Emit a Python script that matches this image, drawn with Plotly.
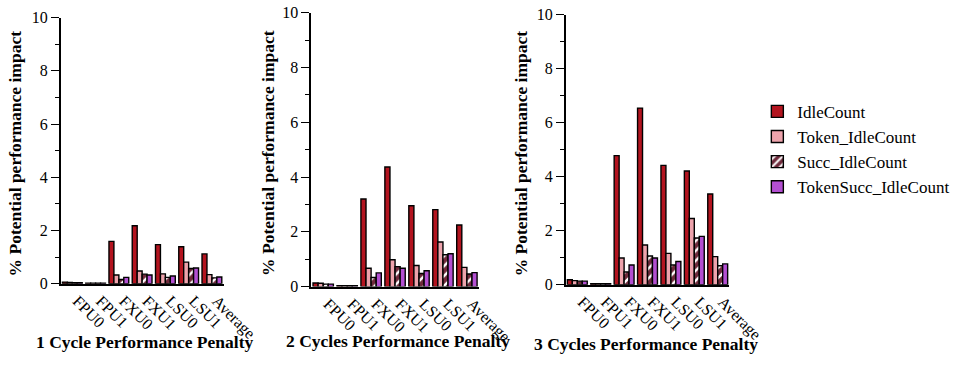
import plotly.graph_objects as go

categories = ["FPU0", "FPU1", "FXU0", "FXU1", "LSU0", "LSU1", "Average"]
series_names = ["IdleCount", "Token_IdleCount", "Succ_IdleCount", "TokenSucc_IdleCount"]

# Penalty of 1 cycle
p1_idle = [0.06, 0.02, 1.59, 2.18, 1.47, 1.39, 1.12]
p1_token = [0.05, 0.02, 0.33, 0.48, 0.37, 0.81, 0.34]
p1_succ = [0.04, 0.02, 0.16, 0.36, 0.24, 0.57, 0.22]
p1_tokensucc = [0.04, 0.02, 0.24, 0.33, 0.29, 0.59, 0.25]

# Penalty of 2 cycles
p2_idle = [0.13, 0.03, 3.20, 4.37, 2.95, 2.81, 2.25]
p2_token = [0.12, 0.03, 0.67, 0.98, 0.77, 1.63, 0.70]
p2_succ = [0.09, 0.03, 0.33, 0.73, 0.48, 1.16, 0.46]
p2_tokensucc = [0.09, 0.03, 0.50, 0.67, 0.58, 1.20, 0.51]

# Penalty of 3 cycles
p3_idle = [0.18, 0.04, 4.78, 6.54, 4.42, 4.21, 3.36]
p3_token = [0.15, 0.04, 0.99, 1.47, 1.16, 2.45, 1.04]
p3_succ = [0.13, 0.04, 0.47, 1.06, 0.73, 1.73, 0.70]
p3_tokensucc = [0.13, 0.04, 0.73, 0.99, 0.86, 1.79, 0.77]

panel_titles = ["1 Cycle Performance Penalty",
                "2 Cycles Performance Penalty",
                "3 Cycles Performance Penalty"]
y_title = "% Potential performance impact"
y_ticks = [0, 2, 4, 6, 8, 10]

panels = [
    [p1_idle, p1_token, p1_succ, p1_tokensucc],
    [p2_idle, p2_token, p2_succ, p2_tokensucc],
    [p3_idle, p3_token, p3_succ, p3_tokensucc],
]

W, H = 960, 370
FONT = "Liberation Serif, Times New Roman, serif"

colors = ["#B3141F", "#EDA3AC", "#6E2A3B", "#B34FD1"]

# pixel boxes of each panel: (left, right, top, bottom)
boxes = [(63, 232, 10, 289), (323, 497, 5, 292), (587, 757, 7, 290)]

fig = go.Figure()

for i, vals in enumerate(panels):
    xa = "x" if i == 0 else f"x{i+1}"
    ya = "y" if i == 0 else f"y{i+1}"
    for j, (name, v) in enumerate(zip(series_names, vals)):
        marker = dict(color=colors[j], line=dict(color="black", width=1.4))
        if j == 2:
            marker["pattern"] = dict(shape="/", bgcolor=colors[j], fgcolor="white",
                                     size=7, solidity=0.35, fillmode="replace")
        fig.add_trace(go.Bar(
            x=categories, y=v, name=name, marker=marker,
            xaxis=xa, yaxis=ya, showlegend=(i == 0),
        ))

layout = dict(
    width=W, height=H,
    margin=dict(l=0, r=0, t=0, b=0),
    paper_bgcolor="white", plot_bgcolor="white",
    barmode="group", bargap=0.15, bargroupgap=0.0,
    font=dict(family=FONT, size=16, color="black"),
    legend=dict(x=786 / W, y=1 - 90 / H, xanchor="left", yanchor="top",
                font=dict(family=FONT, size=17), tracegroupgap=0,
                bgcolor="rgba(0,0,0,0)"),
    annotations=[],
)

for i, (l, r, t, b) in enumerate(boxes):
    xk = "xaxis" if i == 0 else f"xaxis{i+1}"
    yk = "yaxis" if i == 0 else f"yaxis{i+1}"
    ya = "y" if i == 0 else f"y{i+1}"
    xa = "x" if i == 0 else f"x{i+1}"
    layout[xk] = dict(
        domain=[l / W, r / W], anchor=ya,
        showline=True, linecolor="black", linewidth=1.5,
        ticks="", tickangle=45, ticklabelshift=5,
        showgrid=False, zeroline=False,
        tickfont=dict(family=FONT, size=16),
    )
    layout[yk] = dict(
        domain=[1 - b / H, 1 - t / H], anchor=xa,
        range=[0, 10], tickvals=y_ticks,
        showline=True, linecolor="black", linewidth=1.5,
        ticks="outside", ticklen=8, tickwidth=1.2, tickcolor="black",
        minor=dict(dtick=1, ticks="outside", ticklen=4, tickwidth=1.2, tickcolor="black"),
        showgrid=False, zeroline=False,
        tickfont=dict(family=FONT, size=16),
    )

y_title_x = [16, 278, 541]
x_title_pos = [(150, 350), (413, 349), (670, 352)]
for i in range(3):
    layout["annotations"].append(dict(
        text=f"<b>{y_title}</b>", textangle=-90,
        x=y_title_x[i] / W, y=1 - 152 / H, xref="paper", yref="paper",
        xanchor="center", yanchor="middle", showarrow=False,
        font=dict(family=FONT, size=17.5),
    ))
    cx, cy = x_title_pos[i]
    layout["annotations"].append(dict(
        text=f"<b>{panel_titles[i]}</b>",
        x=cx / W, y=1 - cy / H, xref="paper", yref="paper",
        xanchor="center", yanchor="middle", showarrow=False,
        font=dict(family=FONT, size=17.5),
    ))

fig.update_layout(**layout)
fig.write_html("out.html")
